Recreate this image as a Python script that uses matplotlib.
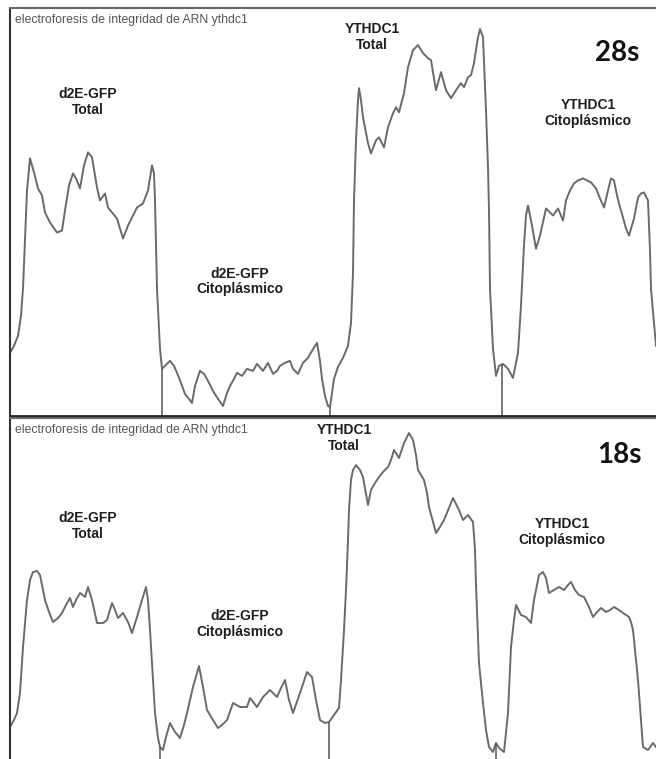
import numpy as np
import matplotlib
matplotlib.use("Agg")
import matplotlib.pyplot as plt

# densitometry traces (x = migration, y = intensity)
mig_28 = [0, 4, 8, 11, 13, 15, 17, 20, 24, 28, 32, 35, 40, 47, 52, 55, 59, 63, 66, 70, 74, 78,
          82, 85, 87, 90, 95, 98, 102, 107, 113, 118, 123, 127, 133, 138, 142, 144, 145, 147,
          150, 152, 156, 160, 164, 167, 171, 175, 179, 182, 185, 190, 194, 197, 203, 208, 213,
          217, 220, 224, 227, 232, 237, 243, 247, 253, 258, 263, 267, 270, 275, 280, 283, 288,
          293, 298, 302, 307, 310, 312, 315, 318, 320, 324, 328, 333, 338, 341, 343, 344, 346,
          348, 349, 351, 353, 358, 361, 366, 369, 374, 378, 383, 386, 389, 394, 398, 403, 408,
          413, 418, 421, 426, 431, 436, 441, 446, 451, 454, 458, 461, 464, 468, 470, 473, 476,
          478, 479, 480, 483, 486, 489, 493, 498, 503, 508, 511, 514, 516, 518, 522, 526, 530,
          536, 540, 543, 548, 553, 556, 560, 564, 568, 573, 577, 581, 586, 590, 594, 598, 601,
          604, 607, 609, 613, 616, 619, 622, 624, 628, 631, 634, 638, 640, 641, 646]
int_28 = [63, 70, 80, 100, 127, 175, 225, 257, 243, 227, 220, 203, 193, 183, 185, 205, 230, 242,
          237, 227, 250, 263, 258, 240, 228, 215, 222, 208, 203, 197, 177, 190, 200, 208, 212,
          225, 250, 242, 215, 127, 67, 47, 51, 55, 50, 43, 33, 22, 17, 13, 30, 45, 42, 37, 25,
          17, 10, 23, 30, 37, 43, 40, 47, 45, 52, 45, 53, 42, 45, 50, 53, 55, 47, 42, 53, 58,
          65, 73, 55, 37, 20, 10, 9, 37, 49, 58, 70, 93, 143, 215, 275, 315, 327, 315, 298, 272,
          262, 275, 278, 268, 288, 302, 308, 303, 322, 348, 365, 370, 362, 357, 355, 325, 343,
          325, 317, 325, 332, 328, 338, 340, 352, 378, 386, 378, 305, 248, 205, 127, 67, 40, 50,
          52, 47, 38, 63, 110, 170, 200, 210, 190, 167, 180, 207, 203, 200, 207, 195, 215, 225,
          232, 235, 237, 235, 233, 227, 217, 208, 225, 237, 235, 220, 212, 198, 187, 180, 190,
          197, 218, 222, 223, 215, 165, 127, 70]

mig_18 = [0, 4, 7, 10, 13, 17, 20, 23, 27, 30, 35, 39, 43, 48, 52, 56, 60, 63, 66, 70, 75, 78,
          82, 87, 93, 97, 102, 105, 108, 113, 118, 122, 127, 132, 136, 138, 140, 142, 145, 148,
          150, 153, 156, 160, 165, 170, 174, 177, 183, 189, 193, 197, 203, 208, 212, 217, 223,
          230, 237, 240, 247, 253, 260, 267, 271, 275, 279, 283, 290, 297, 302, 306, 310, 315,
          319, 324, 329, 331, 334, 336, 338, 339, 341, 343, 346, 350, 353, 358, 361, 365, 369,
          373, 378, 381, 384, 389, 394, 399, 403, 406, 408, 414, 417, 419, 423, 426, 430, 434,
          439, 443, 449, 453, 458, 463, 465, 466, 469, 473, 476, 479, 483, 486, 489, 494, 498,
          501, 504, 506, 511, 516, 521, 524, 529, 533, 536, 539, 544, 549, 554, 558, 561, 565,
          569, 574, 579, 583, 587, 591, 596, 600, 604, 609, 613, 619, 621, 623, 628, 633, 638,
          643, 646]
int_18 = [32, 39, 46, 66, 112, 159, 179, 187, 188, 184, 159, 147, 137, 141, 146, 154, 161, 152,
          159, 166, 162, 172, 159, 136, 136, 139, 156, 149, 141, 146, 137, 126, 142, 159, 172,
          159, 129, 96, 46, 21, 12, 9, 22, 36, 27, 21, 34, 46, 72, 93, 72, 49, 39, 31, 34, 39,
          56, 52, 52, 61, 52, 62, 69, 62, 71, 79, 59, 46, 66, 87, 82, 59, 39, 36, 37, 44, 51,
          79, 129, 169, 219, 249, 279, 289, 294, 289, 282, 254, 269, 276, 282, 287, 292, 299,
          309, 301, 316, 326, 319, 304, 289, 279, 266, 252, 237, 226, 232, 239, 251, 261, 249,
          239, 244, 237, 209, 174, 96, 56, 29, 12, 7, 16, 11, 7, 46, 112, 139, 154, 144, 142,
          136, 159, 184, 187, 181, 166, 169, 172, 169, 174, 177, 169, 164, 162, 152, 142, 147,
          151, 147, 149, 152, 149, 146, 142, 137, 129, 79, 12, 9, 16, 12]

# lane boundaries (migration units)
cuts_28 = [152, 320, 492]
cuts_18 = [150, 319, 486]

panels = ["28s", "18s"]
title = "electroforesis de integridad de ARN ythdc1"

W, H = 656, 759
fig = plt.figure(figsize=(W / 100, H / 100), dpi=100)
fig.patch.set_facecolor("white")

ax1 = fig.add_axes([10 / W, (H - 416) / H, (W - 10) / W, 408 / H])
ax2 = fig.add_axes([10 / W, 0, (W - 10) / W, 341 / H])

for ax, mig, inten, cuts, tag, top in [(ax1, mig_28, int_28, cuts_28, panels[0], 407),
                                       (ax2, mig_18, int_18, cuts_18, panels[1], 341)]:
    ax.plot(mig, inten, color="#6a6a6a", lw=1.4, solid_joinstyle="round")
    for c in cuts:
        ax.vlines(c, 0, np.interp(c, mig, inten), color="#555555", lw=1.1)
    ax.set_xlim(0, W - 10)
    ax.set_ylim(0, top)
    ax.set_xticks([])
    ax.set_yticks([])
    ax.spines["right"].set_visible(False)
    ax.spines["left"].set_color("#333333")
    ax.spines["left"].set_linewidth(1.5)
    ax.spines["top"].set_color("#666666")
    ax.spines["top"].set_linewidth(1.5)
    ax.text(5, top - 6, title, fontsize=8.8, color="#555555", family="Liberation Sans",
            ha="left", va="top")

ax1.spines["bottom"].set_color("#222222")
ax1.spines["bottom"].set_linewidth(2)
ax2.spines["bottom"].set_visible(False)

lab = dict(fontsize=10, fontweight="bold", color="#1e1e1e", family="Liberation Sans",
           ha="center", va="center", linespacing=1.15)

# 28s panel labels (coords in data units of the panel)
ax1.text(78, 313, "d2E-GFP\nTotal", **lab)
ax1.text(230, 134, "d2E-GFP\nCitoplásmico", **lab)
ax1.text(362, 378, "YTHDC1\nTotal", **lab)
ax1.text(578, 302, "YTHDC1\nCitoplásmico", **lab)
ax1.text(607, 362, panels[0], fontsize=20, fontweight="bold", family="Lato",
         color="#111111", ha="center", va="center")

# 18s panel labels
ax2.text(78, 233, "d2E-GFP\nTotal", **lab)
ax2.text(230, 135, "d2E-GFP\nCitoplásmico", **lab)
ax2.text(334, 321, "YTHDC1\nTotal", **lab)
ax2.text(552, 227, "YTHDC1\nCitoplásmico", **lab)
ax2.text(609, 304, panels[1], fontsize=20, fontweight="bold", family="Lato",
         color="#111111", ha="center", va="center")

fig.savefig("out.png", dpi=100, facecolor="white")
